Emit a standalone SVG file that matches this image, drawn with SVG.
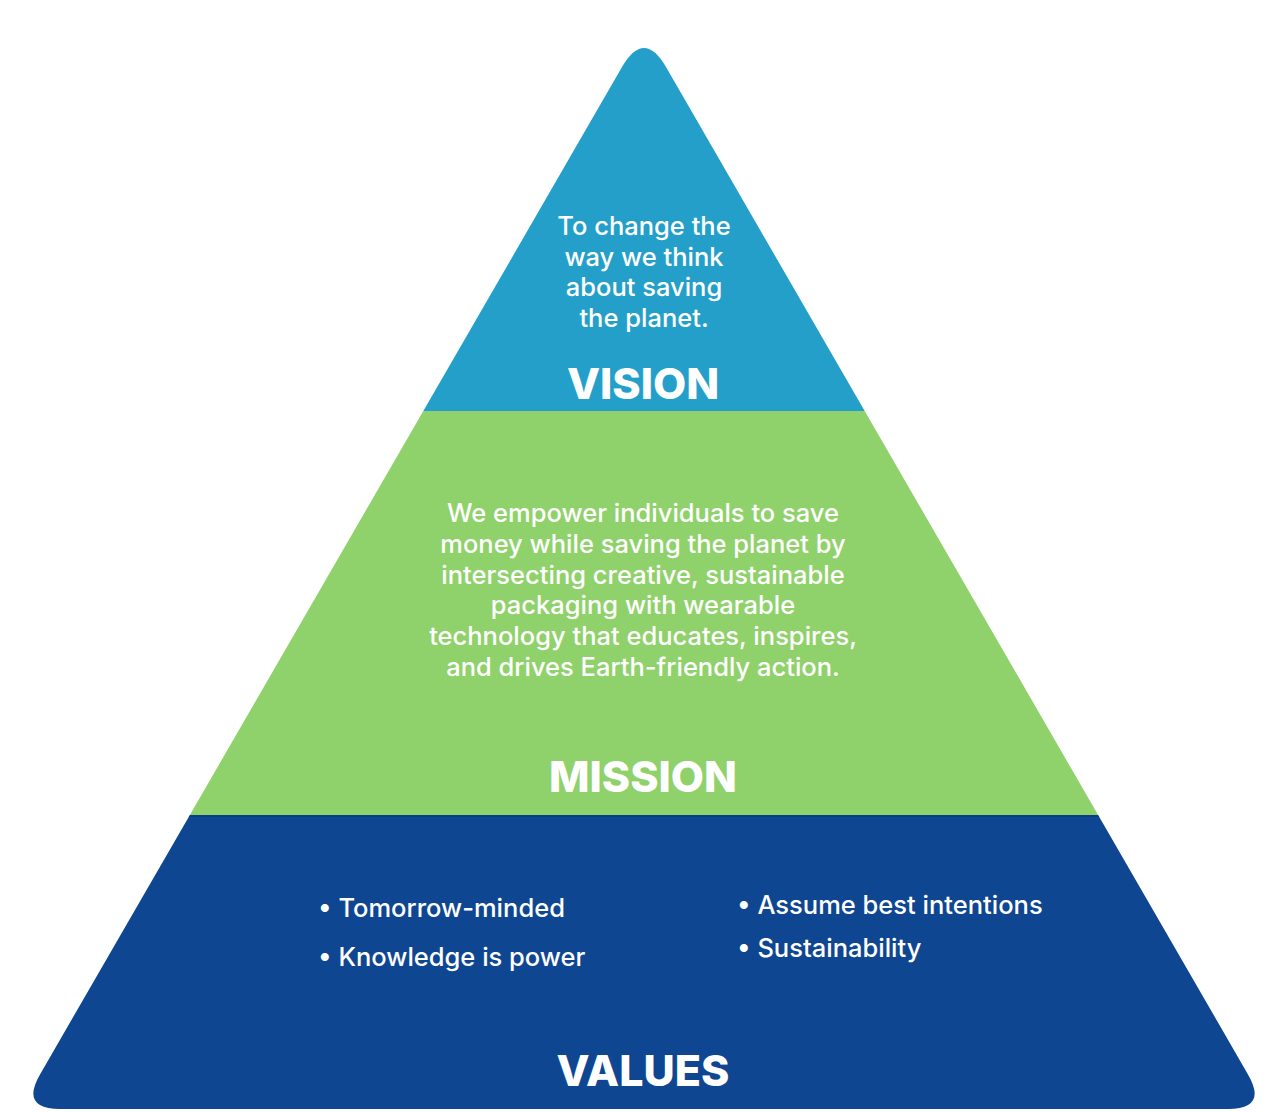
<svg xmlns="http://www.w3.org/2000/svg" width="1280" height="1112" viewBox="0 0 1280 1112">
<style>
.body{font-family:Inter,"Open Sans",sans-serif;font-size:25.5px;fill:#ffffff;font-weight:500}
.mid{text-anchor:middle}
.title{font-family:Inter,"Open Sans",sans-serif;font-size:43px;font-weight:800;fill:#ffffff;text-anchor:middle}
</style>
<defs>
<clipPath id="tri">
<path d="M622,67.1 Q644,29 666,67.1 L1248,1074.4 Q1268,1109 1228,1109 L60,1109 Q20,1109 40,1074.4 Z"/>
</clipPath>
</defs>
<rect width="1280" height="1112" fill="#ffffff"/>
<g clip-path="url(#tri)">
<g id="vision"><rect x="0" y="0" width="1280" height="411" fill="#239FCA"/></g>
<g id="mission"><rect x="0" y="411" width="1280" height="405" fill="#8FD16A"/></g>
<g id="values"><rect x="0" y="816" width="1280" height="300" fill="#0F4691"/>
<rect x="0" y="815" width="1280" height="2" fill="#0B3B82"/></g>
</g>
<g id="vision-text">
<text class="body mid" x="644" y="235">To change the</text>
<text class="body mid" x="644" y="266">way we think</text>
<text class="body mid" x="644" y="296">about saving</text>
<text class="body mid" x="644" y="327">the planet.</text>
<text class="title" x="643" y="399">VISION</text>
</g>
<g id="mission-text">
<text class="body mid" x="643" y="522">We empower individuals to save</text>
<text class="body mid" x="643" y="553">money while saving the planet by</text>
<text class="body mid" x="643" y="584">intersecting creative, sustainable</text>
<text class="body mid" x="643" y="614">packaging with wearable</text>
<text class="body mid" x="643" y="645">technology that educates, inspires,</text>
<text class="body mid" x="643" y="676">and drives Earth-friendly action.</text>
<text class="title" x="643" y="792">MISSION</text>
</g>
<g id="values-text">
<text class="body" x="318" y="917">• Tomorrow-minded</text>
<text class="body" x="318" y="966">• Knowledge is power</text>
<text class="body" x="737" y="914">• Assume best intentions</text>
<text class="body" x="737" y="957">• Sustainability</text>
<text class="title" x="643" y="1086">VALUES</text>
</g>
</svg>
